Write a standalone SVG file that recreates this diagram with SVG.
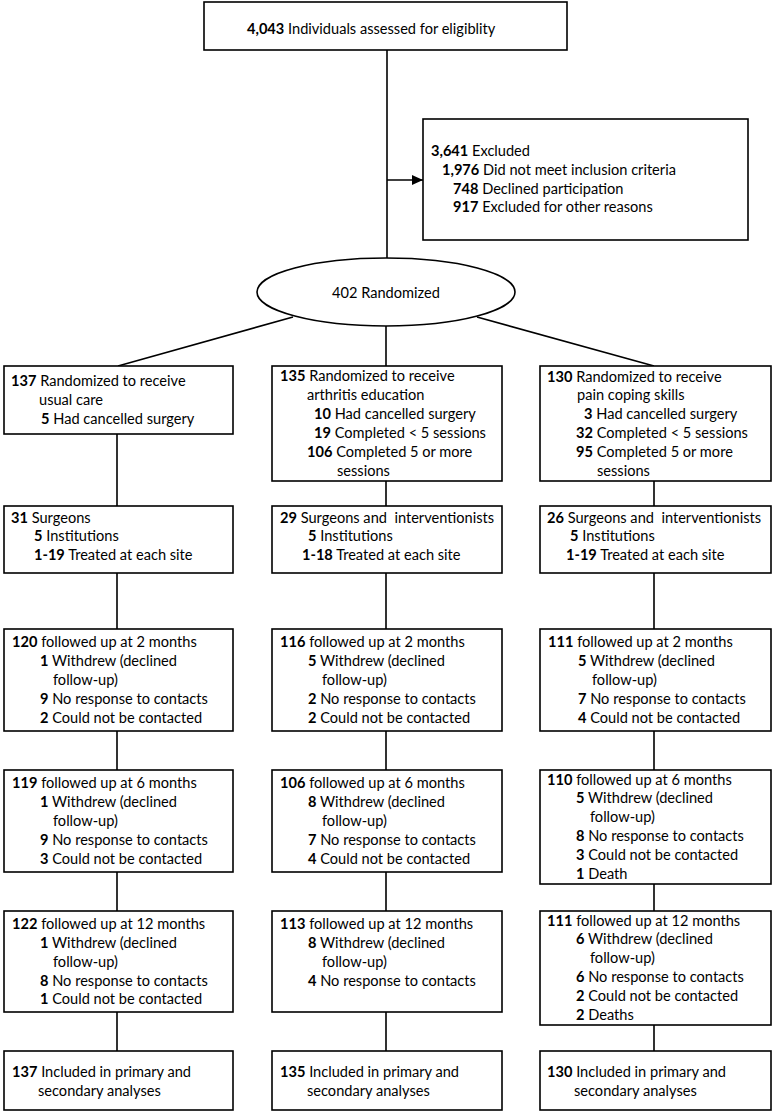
<svg xmlns="http://www.w3.org/2000/svg" width="774" height="1116" viewBox="0 0 774 1116">
<style>
text{font-family:Lato,"Liberation Sans",sans-serif;font-size:14.6px;fill:#000}
.b{font-weight:bold}
.box{fill:#fff;stroke:#000;stroke-width:1.6}
.ln{stroke:#000;stroke-width:1.6;fill:none}
</style>
<defs>
<marker id="arr" viewBox="0 0 10 10" refX="10" refY="5" markerWidth="11" markerHeight="10" markerUnits="userSpaceOnUse" orient="auto" preserveAspectRatio="none"><path d="M0,0 L10,5 L0,10 z" fill="#000"/></marker>
</defs>
<rect width="774" height="1116" fill="#fff"/>
<g id="connectors">
<line class="ln" x1="387" y1="50" x2="387" y2="259"/>
<line class="ln" x1="387" y1="180" x2="423" y2="180" marker-end="url(#arr)"/>
<line class="ln" x1="293" y1="317" x2="118" y2="366"/>
<line class="ln" x1="386" y1="326" x2="386" y2="366"/>
<line class="ln" x1="477" y1="317" x2="654" y2="366"/>
<path class="ln" d="M117,434V506M117,573V629M117,731V770M117,872V911M117,1012V1051"/>
<path class="ln" d="M386,481V506M386,573V629M386,731V770M386,872V911M386,1012V1051"/>
<path class="ln" d="M654,481V506M654,573V629M654,731V770M654,884V911M654,1025V1051"/>
</g>
<g id="assessed"><rect class="box" x="204" y="2" width="363" height="48"/>
<text x="247" y="34"><tspan class="b">4,043</tspan> Individuals assessed for eligiblity</text></g>
<g id="excluded"><rect class="box" x="423" y="119" width="325" height="121"/>
<text x="431" y="156"><tspan class="b">3,641</tspan> Excluded</text>
<text x="442" y="175"><tspan class="b">1,976</tspan> Did not meet inclusion criteria</text>
<text x="453" y="194"><tspan class="b">748</tspan> Declined participation</text>
<text x="453" y="212"><tspan class="b">917</tspan> Excluded for other reasons</text></g>
<g id="randomized"><ellipse cx="386" cy="292" rx="129" ry="34" fill="#fff" stroke="#000" stroke-width="1.6"/>
<text x="386" y="298" text-anchor="middle">402 Randomized</text></g>

<g id="usual-care"><rect class="box" x="4" y="366" width="229" height="68"/>
<text x="11" y="386"><tspan class="b">137</tspan> Randomized to receive</text>
<text x="39" y="405">usual care</text>
<text x="41" y="424"><tspan class="b">5</tspan> Had cancelled surgery</text></g>
<g id="arthritis-education"><rect class="box" x="272" y="366" width="230" height="115"/>
<text x="280" y="381"><tspan class="b">135</tspan> Randomized to receive</text>
<text x="307" y="400">arthritis education</text>
<text x="314" y="419"><tspan class="b">10</tspan> Had cancelled surgery</text>
<text x="314" y="438"><tspan class="b">19</tspan> Completed &lt; 5 sessions</text>
<text x="307" y="457"><tspan class="b">106</tspan> Completed 5 or more</text>
<text x="337" y="476">sessions</text></g>
<g id="pain-coping"><rect class="box" x="540" y="366" width="231" height="115"/>
<text x="547" y="382"><tspan class="b">130</tspan> Randomized to receive</text>
<text x="577" y="400">pain coping skills</text>
<text x="584" y="419"><tspan class="b">3</tspan> Had cancelled surgery</text>
<text x="576" y="438"><tspan class="b">32</tspan> Completed &lt; 5 sessions</text>
<text x="576" y="457"><tspan class="b">95</tspan> Completed 5 or more</text>
<text x="597" y="476">sessions</text></g>

<g id="surgeons-1"><rect class="box" x="4" y="506" width="229" height="67"/>
<text x="11" y="523"><tspan class="b">31</tspan> Surgeons</text>
<text x="34" y="541"><tspan class="b">5</tspan> Institutions</text>
<text x="34" y="560"><tspan class="b">1-19</tspan> Treated at each site</text></g>
<g id="surgeons-2"><rect class="box" x="272" y="506" width="230" height="67"/>
<text x="280" y="523" xml:space="preserve"><tspan class="b">29</tspan> Surgeons and  interventionists</text>
<text x="308" y="541"><tspan class="b">5</tspan> Institutions</text>
<text x="302" y="560"><tspan class="b">1-18</tspan> Treated at each site</text></g>
<g id="surgeons-3"><rect class="box" x="540" y="506" width="231" height="67"/>
<text x="547" y="523" xml:space="preserve"><tspan class="b">26</tspan> Surgeons and  interventionists</text>
<text x="570" y="541"><tspan class="b">5</tspan> Institutions</text>
<text x="566" y="560"><tspan class="b">1-19</tspan> Treated at each site</text></g>

<g id="fu2-1"><rect class="box" x="4" y="629" width="229" height="102"/>
<text x="12" y="647"><tspan class="b">120</tspan> followed up at 2 months</text>
<text x="40" y="666"><tspan class="b">1</tspan> Withdrew (declined</text>
<text x="53" y="685">follow-up)</text>
<text x="40" y="704"><tspan class="b">9</tspan> No response to contacts</text>
<text x="40" y="723"><tspan class="b">2</tspan> Could not be contacted</text></g>
<g id="fu2-2"><rect class="box" x="272" y="629" width="230" height="102"/>
<text x="280" y="647"><tspan class="b">116</tspan> followed up at 2 months</text>
<text x="308" y="666"><tspan class="b">5</tspan> Withdrew (declined</text>
<text x="322" y="685">follow-up)</text>
<text x="308" y="704"><tspan class="b">2</tspan> No response to contacts</text>
<text x="308" y="723"><tspan class="b">2</tspan> Could not be contacted</text></g>
<g id="fu2-3"><rect class="box" x="540" y="629" width="231" height="102"/>
<text x="548" y="647"><tspan class="b">111</tspan> followed up at 2 months</text>
<text x="578" y="666"><tspan class="b">5</tspan> Withdrew (declined</text>
<text x="592" y="685">follow-up)</text>
<text x="578" y="704"><tspan class="b">7</tspan> No response to contacts</text>
<text x="578" y="723"><tspan class="b">4</tspan> Could not be contacted</text></g>

<g id="fu6-1"><rect class="box" x="4" y="770" width="229" height="102"/>
<text x="12" y="788"><tspan class="b">119</tspan> followed up at 6 months</text>
<text x="40" y="807"><tspan class="b">1</tspan> Withdrew (declined</text>
<text x="53" y="826">follow-up)</text>
<text x="40" y="845"><tspan class="b">9</tspan> No response to contacts</text>
<text x="40" y="864"><tspan class="b">3</tspan> Could not be contacted</text></g>
<g id="fu6-2"><rect class="box" x="272" y="770" width="230" height="102"/>
<text x="280" y="788"><tspan class="b">106</tspan> followed up at 6 months</text>
<text x="308" y="807"><tspan class="b">8</tspan> Withdrew (declined</text>
<text x="322" y="826">follow-up)</text>
<text x="308" y="845"><tspan class="b">7</tspan> No response to contacts</text>
<text x="308" y="864"><tspan class="b">4</tspan> Could not be contacted</text></g>
<g id="fu6-3"><rect class="box" x="540" y="770" width="231" height="114"/>
<text x="547" y="785"><tspan class="b">110</tspan> followed up at 6 months</text>
<text x="576" y="803"><tspan class="b">5</tspan> Withdrew (declined</text>
<text x="590" y="822">follow-up)</text>
<text x="576" y="841"><tspan class="b">8</tspan> No response to contacts</text>
<text x="576" y="860"><tspan class="b">3</tspan> Could not be contacted</text>
<text x="576" y="879"><tspan class="b">1</tspan> Death</text></g>

<g id="fu12-1"><rect class="box" x="4" y="911" width="229" height="101"/>
<text x="12" y="929"><tspan class="b">122</tspan> followed up at 12 months</text>
<text x="40" y="948"><tspan class="b">1</tspan> Withdrew (declined</text>
<text x="53" y="967">follow-up)</text>
<text x="40" y="986"><tspan class="b">8</tspan> No response to contacts</text>
<text x="40" y="1004"><tspan class="b">1</tspan> Could not be contacted</text></g>
<g id="fu12-2"><rect class="box" x="272" y="911" width="230" height="101"/>
<text x="280" y="929"><tspan class="b">113</tspan> followed up at 12 months</text>
<text x="308" y="948"><tspan class="b">8</tspan> Withdrew (declined</text>
<text x="322" y="967">follow-up)</text>
<text x="308" y="986"><tspan class="b">4</tspan> No response to contacts</text></g>
<g id="fu12-3"><rect class="box" x="540" y="911" width="231" height="114"/>
<text x="547" y="926"><tspan class="b">111</tspan> followed up at 12 months</text>
<text x="576" y="944"><tspan class="b">6</tspan> Withdrew (declined</text>
<text x="590" y="963">follow-up)</text>
<text x="576" y="982"><tspan class="b">6</tspan> No response to contacts</text>
<text x="576" y="1001"><tspan class="b">2</tspan> Could not be contacted</text>
<text x="576" y="1020"><tspan class="b">2</tspan> Deaths</text></g>

<g id="analysis-1"><rect class="box" x="4" y="1051" width="229" height="59"/>
<text x="12" y="1077"><tspan class="b">137</tspan> Included in primary and</text>
<text x="38" y="1096">secondary analyses</text></g>
<g id="analysis-2"><rect class="box" x="272" y="1051" width="230" height="59"/>
<text x="280" y="1077"><tspan class="b">135</tspan> Included in primary and</text>
<text x="307" y="1096">secondary analyses</text></g>
<g id="analysis-3"><rect class="box" x="540" y="1051" width="231" height="59"/>
<text x="547" y="1077"><tspan class="b">130</tspan> Included in primary and</text>
<text x="574" y="1096">secondary analyses</text></g>
</svg>
